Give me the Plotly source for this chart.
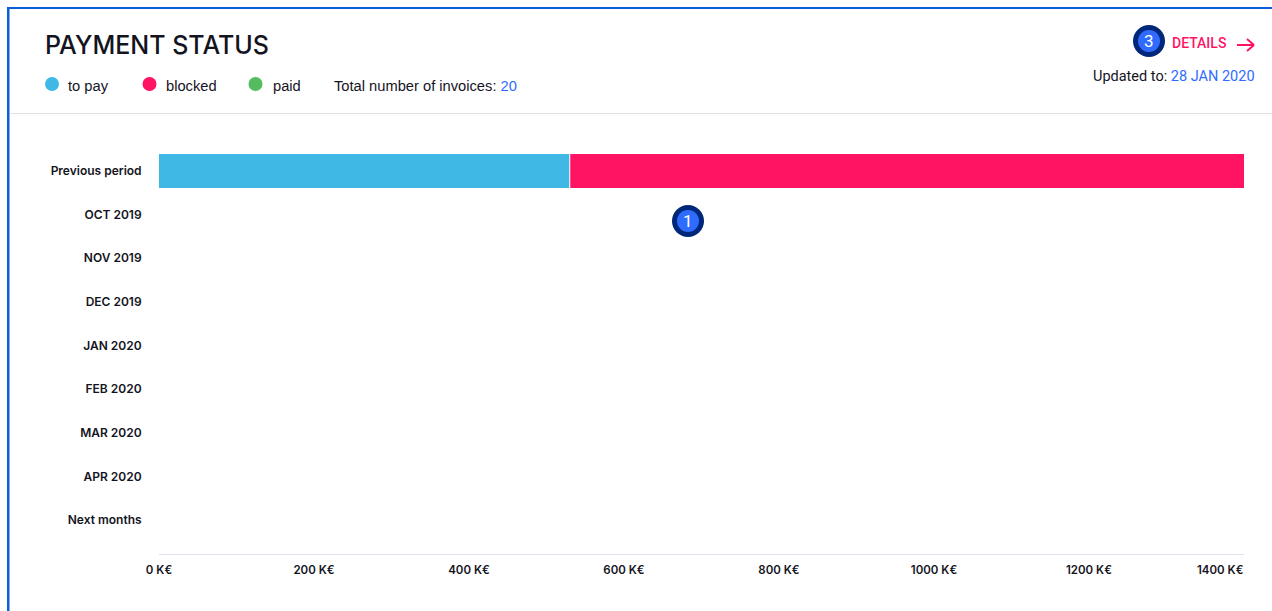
import plotly.graph_objects as go

W, H = 1272, 611
L, R, T, B = 159, 1244, 149, 554

categories = ["Previous period", "OCT 2019", "NOV 2019", "DEC 2019", "JAN 2020",
              "FEB 2020", "MAR 2020", "APR 2020", "Next months"]
to_pay = [530, 0, 0, 0, 0, 0, 0, 0, 0]
blocked = [870, 0, 0, 0, 0, 0, 0, 0, 0]
paid = [0, 0, 0, 0, 0, 0, 0, 0, 0]
tick_values = [0, 200, 400, 600, 800, 1000, 1200, 1400]
tick_labels = ["0 K€", "200 K€", "400 K€", "600 K€", "800 K€", "1000 K€", "1200 K€", "1400 K€"]

BLUE = "#3fb8e6"
PINK = "#ff1464"
GREEN = "#55bb5f"
LINK = "#2f6bff"
INK = "#14141e"
NAVY = "#00287a"
BADGE = "#2f6bff"
FRAME = "#0a5fd8"
SANS = "Liberation Sans"
ROBOTO = "Roboto"
INTER = "Inter"


def px(x):
    return (x - L) / (R - L)


def py(y):
    return (B - y) / (B - T)


def rect(x0, y0, x1, y1, color):
    return dict(type="rect", xref="paper", yref="paper", x0=px(x0), x1=px(x1),
                y0=py(y0), y1=py(y1), fillcolor=color, line_width=0, layer="above")


def circle(cx, cy, r, color):
    return dict(type="circle", xref="paper", yref="paper", x0=px(cx - r), x1=px(cx + r),
                y0=py(cy - r), y1=py(cy + r), fillcolor=color, line_width=0, layer="above")


def segment(x0, y0, x1, y1, color, width):
    return dict(type="line", xref="paper", yref="paper", x0=px(x0), x1=px(x1),
                y0=py(y0), y1=py(y1), line=dict(color=color, width=width), layer="above")


def label(x, y, text, size=14.7, color=INK, anchor="left", family=SANS, weight=400):
    return dict(xref="paper", yref="paper", x=px(x), y=py(y), text=text, showarrow=False,
                xanchor=anchor, yanchor="middle", align=anchor,
                font=dict(family=family, size=size, color=color, weight=weight),
                borderpad=0, borderwidth=0)


x_tick_font = dict(family=INTER, size=11.5, color=INK, weight=600)
y_tick_font = dict(family=INTER, size=12, color=INK, weight=600)

fig = go.Figure()
for name, values, color in (("to pay", to_pay, BLUE), ("blocked", blocked, PINK), ("paid", paid, GREEN)):
    fig.add_bar(name=name, y=categories, x=values, orientation="h",
                marker=dict(color=color, line=dict(width=0)), showlegend=False)

shapes = [
    rect(7, 7, 1272, 9, FRAME),
    rect(7, 7, 9.5, 611, FRAME),
    segment(10, 113.5, 1272, 113.5, "#e2e2e2", 1),
    circle(52, 84, 7, BLUE),
    circle(149.5, 84, 7, PINK),
    circle(255.5, 84, 7, GREEN),
    circle(1149, 41, 16, NAVY),
    circle(1149, 41, 11, BADGE),
    circle(688, 221, 16, NAVY),
    circle(688, 221, 11, BADGE),
    segment(1237, 45, 1254, 45, PINK, 2),
    segment(1247, 39, 1254, 45, PINK, 2),
    segment(1247, 51, 1254, 45, PINK, 2),
    dict(type="line", xref="x", yref="y", x0=to_pay[0], x1=to_pay[0], y0=-0.395, y1=0.395,
         line=dict(color="white", width=1), layer="above"),
]

annotations = [
    label(45, 45, "PAYMENT STATUS", size=25, family=INTER, weight=500),
    label(68, 86, "to pay"),
    label(166, 86, "blocked"),
    label(273, 86, "paid"),
    label(334, 86, f'Total number of invoices: <span style="color:{LINK}">20</span>'),
    label(1172, 43, "DETAILS", size=14, color=PINK, family=ROBOTO, weight=500),
    label(1254.5, 76, f'Updated to: <span style="color:{LINK}">28 JAN 2020</span>', anchor="right",
          family=ROBOTO, size=14.5),
    label(1149, 41, "3", size=17, color="white", anchor="center", family=ROBOTO),
    label(688, 221, "1", size=17, color="white", anchor="center", family=ROBOTO),
    dict(xref="x", yref="paper", x=tick_values[-1], y=py(570), text=tick_labels[-1], showarrow=False,
         xanchor="right", yanchor="middle", xshift=2, font=x_tick_font),
]

fig.update_layout(
    width=W, height=H, autosize=False,
    margin=dict(l=L, r=W - R, t=T, b=H - B, pad=0),
    barmode="stack", bargap=0.21,
    paper_bgcolor="white", plot_bgcolor="white",
    shapes=shapes, annotations=annotations,
    font=dict(family=SANS, size=12, color=INK),
    xaxis=dict(range=[0, tick_values[-1]], tickvals=tick_values[:-1], ticktext=tick_labels[:-1],
               showgrid=False, zeroline=False, showline=True, linecolor="#dfe3f0", linewidth=1,
               ticks="outside", ticklen=5, tickcolor="rgba(0,0,0,0)", tickfont=x_tick_font),
    yaxis=dict(categoryorder="array", categoryarray=categories, range=[8.78, -0.5],
               showgrid=False, zeroline=False, showline=False, ticks="outside", ticklen=14,
               tickcolor="rgba(0,0,0,0)", tickfont=y_tick_font),
)

fig.write_html("out.html", config={"displayModeBar": False},
               post_script="document.body.style.margin='0';document.body.style.overflow='hidden';")
